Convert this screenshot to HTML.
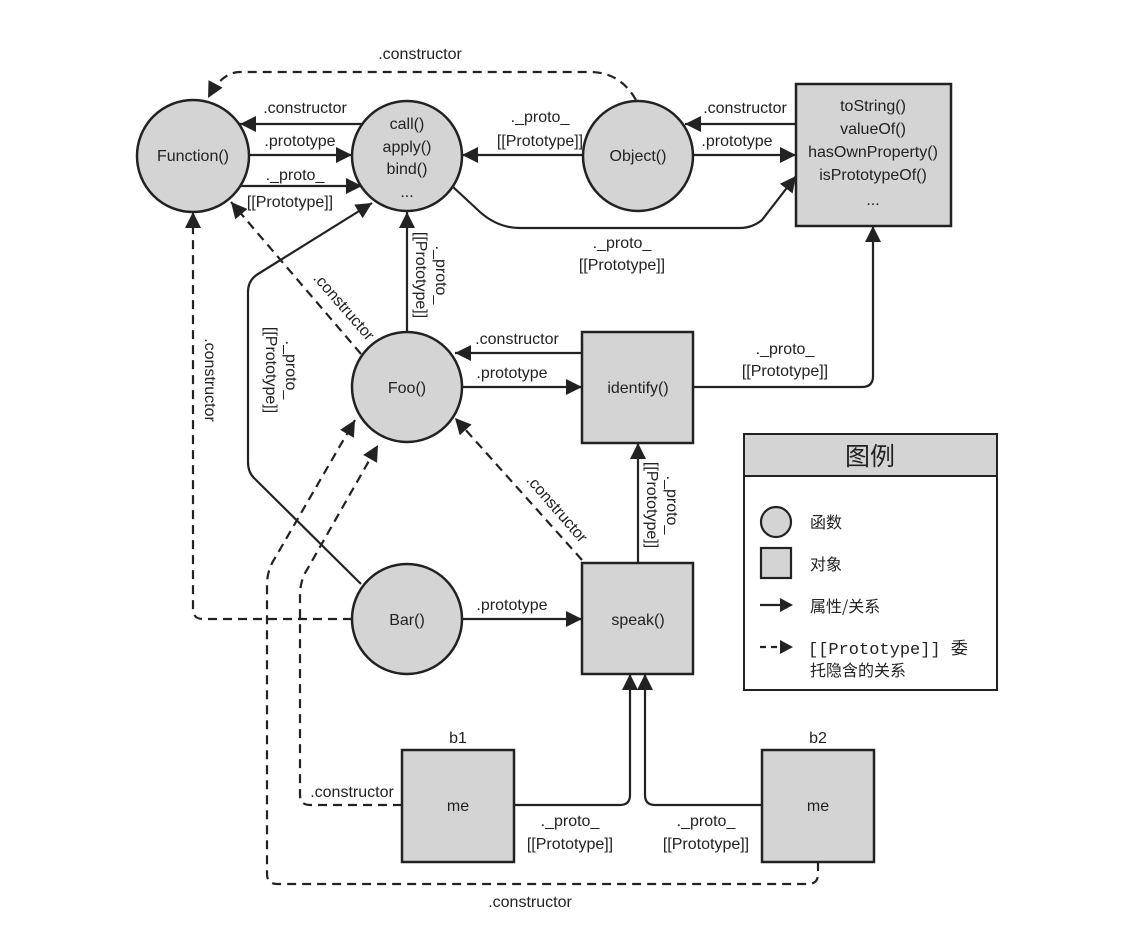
<!DOCTYPE html>
<html><head><meta charset="utf-8"><style>
html,body{margin:0;padding:0;background:#fff}
svg{display:block}
text{font-family:"Liberation Sans Narrow","Liberation Sans","Noto Sans CJK SC",sans-serif;font-size:16px;fill:#222}
.c{fill:#d4d4d4;stroke:#222;stroke-width:2.5}
.l{fill:none;stroke:#222;stroke-width:2.2}
.d{fill:none;stroke:#222;stroke-width:2.2;stroke-dasharray:9 6}
</style></head><body>
<svg width="1140" height="950" viewBox="0 0 1140 950" xmlns="http://www.w3.org/2000/svg">
<defs>
<marker id="m" viewBox="0 0 16 16" refX="16" refY="8" markerWidth="16" markerHeight="16" markerUnits="userSpaceOnUse" orient="auto">
<path d="M0,0 L16,8 L0,16 z" fill="#222"/>
</marker>
</defs>

<!-- connectors -->
<path class="d" d="M636,100 Q620,72 590,72 L240,72 Q222,72 208,98" marker-end="url(#m)"/>
<path class="l" d="M362,124 L240,124" marker-end="url(#m)"/>
<path class="l" d="M249,155 L352,155" marker-end="url(#m)"/>
<path class="l" d="M238,186 L362,186" marker-end="url(#m)"/>
<path class="l" d="M583,155 L462,155" marker-end="url(#m)"/>
<path class="l" d="M796,124 L685,124" marker-end="url(#m)"/>
<path class="l" d="M693,155 L796,155" marker-end="url(#m)"/>
<path class="l" d="M452,186 L480,212 Q498,228 520,228 L740,228 Q752,228 762,220 L796,176" marker-end="url(#m)"/>
<path class="l" d="M407,332 L407,212" marker-end="url(#m)"/>
<path class="d" d="M361,354 L231,202" marker-end="url(#m)"/>
<path class="l" d="M361,584 L254,478 Q248,472 248,462 L248,292 Q248,280 258,274 L372,203" marker-end="url(#m)"/>
<path class="d" d="M352,619 L203,619 Q193,619 193,609 L193,212" marker-end="url(#m)"/>
<path class="l" d="M582,353 L455,353" marker-end="url(#m)"/>
<path class="l" d="M462,387 L582,387" marker-end="url(#m)"/>
<path class="l" d="M693,387 L862,387 Q873,387 873,376 L873,226" marker-end="url(#m)"/>
<path class="l" d="M638,563 L638,443" marker-end="url(#m)"/>
<path class="d" d="M582,560 L455,418" marker-end="url(#m)"/>
<path class="l" d="M462,619 L582,619" marker-end="url(#m)"/>
<path class="d" d="M402,805 L310,805 Q300,805 300,795 L300,595 Q300,580 308,568 L378,445" marker-end="url(#m)"/>
<path class="d" d="M818,862 L818,874 Q818,884 808,884 L277,884 Q267,884 267,874 L267,585 Q267,570 275,558 L355,420" marker-end="url(#m)"/>
<path class="l" d="M514,805 L620,805 Q630,805 630,795 L630,674" marker-end="url(#m)"/>
<path class="l" d="M762,805 L655,805 Q645,805 645,795 L645,674" marker-end="url(#m)"/>

<!-- nodes -->
<circle class="c" cx="193" cy="156" r="56"/>
<circle class="c" cx="407" cy="156" r="55"/>
<circle class="c" cx="638" cy="156" r="55"/>
<rect class="c" x="796" y="84" width="155" height="142"/>
<circle class="c" cx="407" cy="387" r="55"/>
<rect class="c" x="582" y="332" width="111" height="111"/>
<circle class="c" cx="407" cy="619" r="55"/>
<rect class="c" x="582" y="563" width="111" height="111"/>
<rect class="c" x="402" y="750" width="112" height="112"/>
<rect class="c" x="762" y="750" width="112" height="112"/>

<g text-anchor="middle">
<text x="193" y="161">Function()</text>
<text x="407" y="129">call()</text>
<text x="407" y="152">apply()</text>
<text x="407" y="174">bind()</text>
<text x="407" y="197">...</text>
<text x="638" y="161">Object()</text>
<text x="873" y="111">toString()</text>
<text x="873" y="134">valueOf()</text>
<text x="873" y="157">hasOwnProperty()</text>
<text x="873" y="180">isPrototypeOf()</text>
<text x="873" y="205">...</text>
<text x="407" y="393">Foo()</text>
<text x="638" y="393">identify()</text>
<text x="407" y="625">Bar()</text>
<text x="638" y="625">speak()</text>
<text x="458" y="743">b1</text>
<text x="818" y="743">b2</text>
<text x="458" y="811">me</text>
<text x="818" y="811">me</text>

<text x="420" y="59">.constructor</text>
<text x="305" y="113">.constructor</text>
<text x="300" y="146">.prototype</text>
<text x="295" y="180">._proto_</text>
<text x="290" y="207">[[Prototype]]</text>
<text x="540" y="122">._proto_</text>
<text x="540" y="146">[[Prototype]]</text>
<text x="745" y="113">.constructor</text>
<text x="737" y="146">.prototype</text>
<text x="622" y="248">._proto_</text>
<text x="622" y="270">[[Prototype]]</text>
<text x="517" y="344">.constructor</text>
<text x="512" y="378">.prototype</text>
<text x="785" y="354">._proto_</text>
<text x="785" y="376">[[Prototype]]</text>
<text x="512" y="610">.prototype</text>
<text x="352" y="797">.constructor</text>
<text x="570" y="826">._proto_</text>
<text x="570" y="849">[[Prototype]]</text>
<text x="706" y="826">._proto_</text>
<text x="706" y="849">[[Prototype]]</text>
<text x="530" y="907">.constructor</text>
</g>
<g text-anchor="middle">
<text transform="translate(430,275) rotate(90)" x="0" y="-6">._proto_</text>
<text transform="translate(430,275) rotate(90)" x="0" y="14">[[Prototype]]</text>
<text transform="translate(661,505) rotate(90)" x="0" y="-6">._proto_</text>
<text transform="translate(661,505) rotate(90)" x="0" y="14">[[Prototype]]</text>
<text transform="translate(280,370) rotate(90)" x="0" y="-6">._proto_</text>
<text transform="translate(280,370) rotate(90)" x="0" y="14">[[Prototype]]</text>
<text transform="translate(205,380) rotate(90)">.constructor</text>
<text transform="translate(340,310) rotate(49)">.constructor</text>
<text transform="translate(553,512) rotate(49)">.constructor</text>
</g>

<!-- legend -->
<rect x="744" y="434" width="253" height="256" fill="#fff" stroke="#222" stroke-width="2"/>
<rect x="744" y="434" width="253" height="42" fill="#d4d4d4" stroke="#222" stroke-width="2"/>
<text x="870" y="465" text-anchor="middle" style="font-family:'Noto Sans CJK SC',sans-serif;font-size:25px">图例</text>
<circle cx="776" cy="522" r="15" fill="#d4d4d4" stroke="#222" stroke-width="2.2"/>
<rect x="761" y="548" width="30" height="30" fill="#d4d4d4" stroke="#222" stroke-width="2.2"/>
<path class="l" d="M760,605 L784,605"/>
<path class="d" d="M760,647 L784,647" style="stroke-dasharray:6 5"/>
<path d="M780,640 L793,647 L780,654 z" fill="#222"/>
<path d="M780,598 L793,605 L780,612 z" fill="#222"/>
<g style="font-family:'Noto Sans CJK SC',sans-serif;font-size:17px">
<text x="810" y="528" style="font-family:'Noto Sans CJK SC',sans-serif">函数</text>
<text x="810" y="570" style="font-family:'Noto Sans CJK SC',sans-serif">对象</text>
<text x="810" y="612" style="font-family:'Noto Sans CJK SC',sans-serif">属性/关系</text>
<text x="808" y="654" style="font-family:'Liberation Mono','Noto Sans CJK SC',monospace;font-size:17px">[[Prototype]] <tspan style="font-family:'Noto Sans CJK SC',sans-serif">委</tspan></text>
<text x="810" y="676" style="font-family:'Noto Sans CJK SC',sans-serif">托隐含的关系</text>
</g>
</svg>
</body></html>
